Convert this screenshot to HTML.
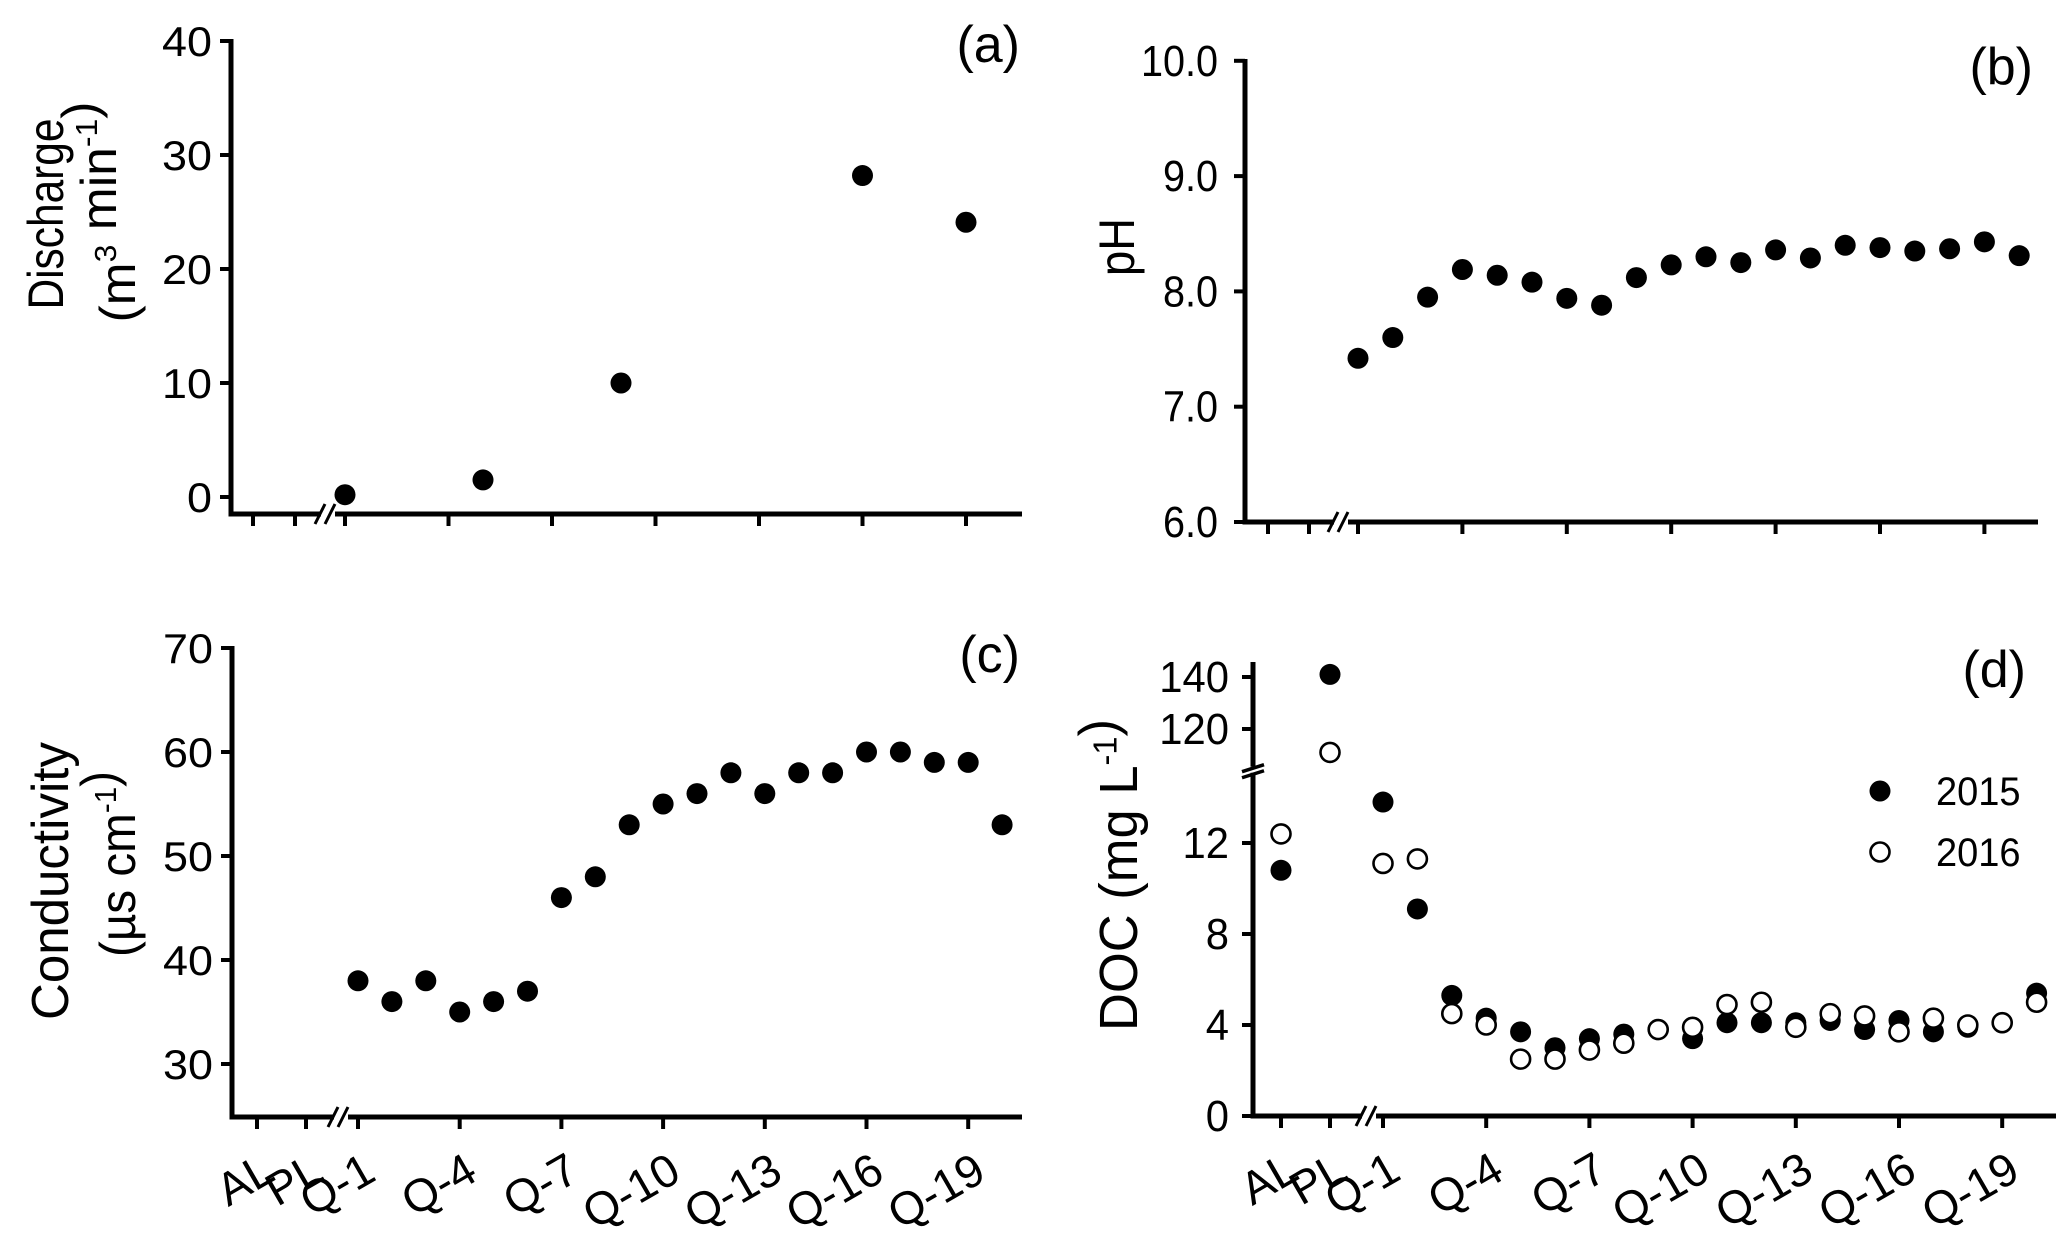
<!DOCTYPE html>
<html><head><meta charset="utf-8"><style>
html,body{margin:0;padding:0;background:#fff;}
svg{display:block;}
text{font-family:"Liberation Sans",Arial,sans-serif;fill:#000;}
</style></head><body>
<svg id="fig" width="2067" height="1243" viewBox="0 0 2067 1243" xmlns="http://www.w3.org/2000/svg"></svg>
<script>
// ---- data ----
const categories = ["AL","PL","Q-1","Q-2","Q-3","Q-4","Q-5","Q-6","Q-7","Q-8","Q-9","Q-10","Q-11","Q-12","Q-13","Q-14","Q-15","Q-16","Q-17","Q-18","Q-19","Q-20"];
const xTickLabels = ["AL","PL","Q-1","Q-4","Q-7","Q-10","Q-13","Q-16","Q-19"];
const dischargeSites = ["Q-1","Q-5","Q-9","Q-16","Q-19"];
const dischargeValues = [0.2,1.5,10.0,28.2,24.1];
const phSites = ["Q-1","Q-2","Q-3","Q-4","Q-5","Q-6","Q-7","Q-8","Q-9","Q-10","Q-11","Q-12","Q-13","Q-14","Q-15","Q-16","Q-17","Q-18","Q-19","Q-20"];
const phValues = [7.42,7.6,7.95,8.19,8.14,8.08,7.94,7.88,8.12,8.23,8.3,8.25,8.36,8.29,8.4,8.38,8.35,8.37,8.43,8.31];
const condSites = phSites;
const condValues = [38,36,38,35,36,37,46,48,53,55,56,58,56,58,58,60,60,59,59,53];
const docSites = categories;
const doc2015 = [10.8,141,13.8,9.1,5.3,4.3,3.7,3.0,3.4,3.6,3.8,3.4,4.1,4.1,4.1,4.2,3.8,4.2,3.7,3.9,4.1,5.4];
const doc2016 = [12.4,111,11.1,11.3,4.5,4.0,2.5,2.5,2.9,3.2,3.8,3.9,4.9,5.0,3.9,4.5,4.4,3.7,4.3,4.0,4.1,5.0];
const dischargeTicks = [0,10,20,30,40];
const phTicks = [6,7,8,9,10];
const phTickLabels = ["6.0","7.0","8.0","9.0","10.0"];
const condTicks = [30,40,50,60,70];
const docLowerTicks = [0,4,8,12];
const docUpperTicks = [120,140];

const NS="http://www.w3.org/2000/svg";
const svg=document.getElementById('fig');
function el(tag,attrs,parent){const e=document.createElementNS(NS,tag);for(const k in attrs)e.setAttribute(k,attrs[k]);(parent||svg).appendChild(e);return e;}
function txt(x,y,s,size,anchor,rot,parent,sx){
  const g=el('g',{transform:`translate(${x},${y}) scale(${sx||1.08},1) rotate(${rot||0})`},parent);
  const t=el('text',{x:0,y:0,'font-size':size,'text-anchor':anchor||'start'},g);
  t.textContent=s;return t;
}
function line(x1,y1,x2,y2,w,parent){return el('line',{x1,y1,x2,y2,stroke:'#000','stroke-width':w},parent);}

function makeX(al,pl,q1,sp){return function(cat){if(cat==="AL")return al;if(cat==="PL")return pl;const n=parseInt(cat.slice(2));return q1+(n-1)*sp;};}
const panels={
  a:{ax:231,ay:514,right:1022,top:39,brk:329,lf:42,lsx:1.07,lgap:19,x:makeX(253,295,345,34.5),y:v=>497-v*11.4},
  b:{ax:1245,ay:522,right:2038,top:59,brk:1342,lf:44,lsx:0.9,lgap:27,x:makeX(1268,1309,1358,34.8),y:v=>522-(v-6)*115.3},
  c:{ax:232,ay:1117,right:1022,top:646,brk:342,lf:42,lsx:1.07,lgap:19,x:makeX(257,306,358,33.9),y:v=>1064-(v-30)*10.4},
  d:{ax:1253,ay:1116,right:2056,top:662,brk:1370,lf:44,lsx:0.95,lgap:24,x:makeX(1281,1330,1383,34.4),y:v=>v<=15?1116-v*22.75:729-(v-120)*2.6}
};

function drawAxes(p,name,withLabels){
  const g=el('g',{});
  
  
  line(p.ax,p.ay,p.right,p.ay,5,g);
  if(name!=='panel-d') line(p.ax,p.top,p.ax,p.ay+2.5,5,g);
  el('rect',{x:p.brk-8,y:p.ay-5,width:14,height:10,fill:'#fff'},g);
  line(p.brk-14,p.ay+10,p.brk-4,p.ay-10,3,g);
  line(p.brk-4,p.ay+10,p.brk+6,p.ay-10,3,g);
  xTickLabels.forEach(c=>{
    const x=p.x(c);
    line(x,p.ay,x,p.ay+12,4,g);
    if(withLabels){const t=txt(x+20,p.ay+62,c,46,'end',-30,g,1.0);
      
      }
  });
  return g;
}
function yTicks(p,vals,labels,g){
  vals.forEach((v,i)=>{const y=p.y(v);line(p.ax-11,y,p.ax,y,4,g);
    const t=txt(p.ax-p.lgap,y+15,labels?labels[i]:String(v),p.lf,'end',0,g,p.lsx);
    
    });
}
function dot(x,y,filled,g){return el('circle',{cx:x,cy:y,r:filled?10.5:9.5,fill:filled?'#000':'#fff',stroke:'#000','stroke-width':filled?0:2.6},g);}
function title(x,y,parts,size,len){
  const g=el('g',{transform:`translate(${x},${y}) rotate(-90)`});
  const t=el('text',{x:0,y:0,'font-size':size,'text-anchor':'middle'},g);
  if(len){t.setAttribute('textLength',len);t.setAttribute('lengthAdjust','spacingAndGlyphs');}
  parts.forEach(pt=>{const s=el('tspan',pt[1]?{'font-size':size*0.62,dy:-size*0.38}:{},t);s.textContent=pt[0];
    if(pt[1]){const r=el('tspan',{dy:size*0.38},t);r.textContent='';}});
  return t;
}

// Panel A
let p=panels.a; let g=drawAxes(p,'panel-a',false); yTicks(p,dischargeTicks,null,g);
let s=el('g',{});  
dischargeSites.forEach((c,i)=>{const d=dot(p.x(c),p.y(dischargeValues[i]),true,s);
  
  });
let t=title(63,214,[["Discharge"]],50,191);  
t=title(135,212,[["(m"],["3",1],["  min"],["-1",1],[")"]],50,221);  
t=txt(1020,62,"(a)",52,'end',0,null,1.0);  

// Panel B
p=panels.b; g=drawAxes(p,'panel-b',false); yTicks(p,phTicks,phTickLabels,g);
s=el('g',{});  
phSites.forEach((c,i)=>{const d=dot(p.x(c),p.y(phValues[i]),true,s);
  
  });
t=title(1134,247,[["pH"]],50,58);  
t=txt(2033,84,"(b)",52,'end',0,null,1.0);  

// Panel C
p=panels.c; g=drawAxes(p,'panel-c',true); yTicks(p,condTicks,null,g);
s=el('g',{});  
condSites.forEach((c,i)=>{const d=dot(p.x(c),p.y(condValues[i]),true,s);
  
  });
t=title(68,881,[["Conductivity"]],52,278);  
t=title(135,864,[["(\u00b5s  cm"],["-1",1],[")"]],50,186);  
t=txt(1020,672,"(c)",52,'end',0,null,1.0);  

// Panel D
p=panels.d; g=drawAxes(p,'panel-d',true);
line(p.ax,p.top,p.ax,p.y(105.5),5,g);
line(p.ax,p.y(15)-2,p.ax,p.ay+2.5,5,g);
line(p.ax-11,p.y(105.5)+5,p.ax+11,p.y(105.5)-2,3.5,g);
line(p.ax-11,p.y(15)+3,p.ax+11,p.y(15)-4,3.5,g);
yTicks(p,docLowerTicks,null,g); yTicks(p,docUpperTicks,null,g);
s=el('g',{});  
docSites.forEach((c,i)=>{const d=dot(p.x(c),p.y(doc2015[i]),true,s);
  
  });
s=el('g',{});  
docSites.forEach((c,i)=>{const d=dot(p.x(c),p.y(doc2016[i]),false,s);
  
  });
t=title(1137,875,[["DOC  (mg  L"],["-1",1],[")"]],54,312);  
t=txt(2026,687,"(d)",52,'end',0,null,1.0);  
const lg=el('g',{});  
let ld=dot(1880,791,true,lg);  
t=txt(1936,805,"2015",40,'start',0,lg,0.95);  
ld=dot(1880,852,false,lg);  
t=txt(1936,866,"2016",40,'start',0,lg,0.95);  
</script>
</body></html>
